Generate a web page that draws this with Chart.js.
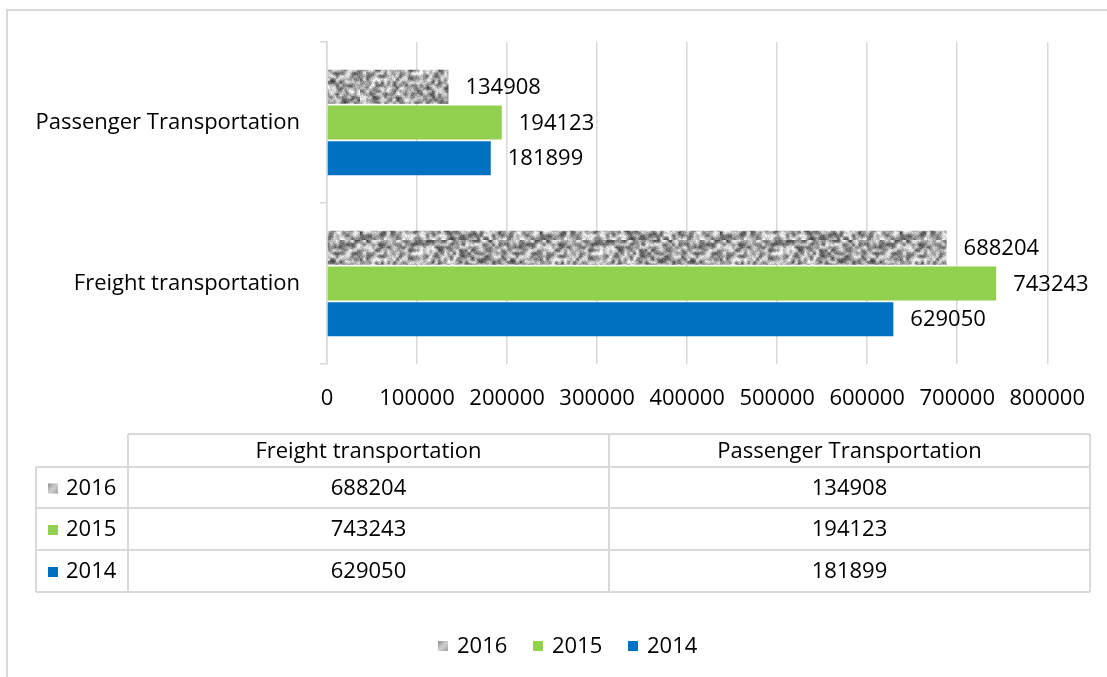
<!DOCTYPE html>
<html><head><meta charset="utf-8">
<script src="https://cdn.jsdelivr.net/npm/chart.js@4/dist/chart.umd.min.js"></script>
<style>html,body{margin:0;padding:0;background:#fff;overflow:hidden}#wrap{position:relative;width:1107px;height:677px}</style>
</head><body><div id="wrap"><canvas id="c" width="1107" height="677"></canvas></div>
<script>
// ---- data ----
const categories = ['Freight transportation', 'Passenger Transportation'];
const seriesNames = ['2016', '2015', '2014'];
const values2016 = [688204, 134908];
const values2015 = [743243, 194123];
const values2014 = [629050, 181899];
const xMin = 0, xMax = 800000, xStep = 100000;

const FONT = "'Open Sans', sans-serif";
const FS = 22;
const GREEN = '#92D050', BLUE = '#0070C0', GRID = '#d9d9d9';

const canvas = document.getElementById('c');
const ctx0 = canvas.getContext('2d');

function hash(x, y, seed) {
  let h = (Math.imul(x, 374761393) + Math.imul(y, 668265263) + Math.imul(seed, 2246822519)) | 0;
  h = Math.imul(h ^ (h >>> 13), 1274126177);
  h ^= h >>> 16;
  return (h >>> 0) / 4294967296;
}
function makeTexture() {
  const sw = 60, sh = 20, sc = 3;
  const small = document.createElement('canvas'); small.width = sw; small.height = sh;
  const s = small.getContext('2d'); const img = s.createImageData(sw, sh);
  for (let y = 0; y < sh; y++) for (let x = 0; x < sw; x++) {
    const h = hash(x, y, 7);
    const v = Math.round(70 + h * 185);
    const i = (y * sw + x) * 4;
    img.data[i] = v; img.data[i + 1] = v; img.data[i + 2] = v; img.data[i + 3] = 255;
  }
  s.putImageData(img, 0, 0);
  const big = document.createElement('canvas'); big.width = sw * sc; big.height = sh * sc;
  const b = big.getContext('2d'); b.imageSmoothingEnabled = true; b.imageSmoothingQuality = 'high';
  b.drawImage(small, 0, 0, sw * sc, sh * sc);
  const bi = b.getImageData(0, 0, big.width, big.height);
  for (let y = 0; y < big.height; y++) for (let x = 0; x < big.width; x++) {
    const h = hash(x, y, 31);
    const i = (y * big.width + x) * 4; const d = (h - 0.5) * 50;
    for (let k = 0; k < 3; k++) bi.data[i + k] = Math.max(0, Math.min(255, bi.data[i + k] + d));
  }
  b.putImageData(bi, 0, 0);
  return ctx0.createPattern(big, 'repeat');
}
const TEXTURE = makeTexture();

// chart order: top to bottom
const chartLabels = categories.slice().reverse();
const seriesValues = { '2016': values2016, '2015': values2015, '2014': values2014 };
const seriesColors = { '2016': TEXTURE, '2015': GREEN, '2014': BLUE };

const datasets = seriesNames.map(n => ({
  label: n,
  data: seriesValues[n].slice().reverse(),
  backgroundColor: seriesColors[n],
  borderWidth: 0,
  barPercentage: 0.95,
  categoryPercentage: 0.665
}));

const framePlugin = {
  id: 'frame',
  beforeDraw(chart) {
    const c = chart.ctx; c.save();
    c.strokeStyle = GRID; c.lineWidth = 2;
    c.beginPath(); c.moveTo(7, 677); c.lineTo(7, 10); c.lineTo(1107, 10); c.stroke();
    c.restore();
  }
};

const labelsPlugin = {
  id: 'vlabels',
  afterDatasetsDraw(chart) {
    const c = chart.ctx; c.save();
    c.font = FS + 'px ' + FONT; c.fillStyle = '#000'; c.textAlign = 'left'; c.textBaseline = 'middle';
    chart.data.datasets.forEach((ds, di) => {
      const meta = chart.getDatasetMeta(di);
      meta.data.forEach((el, i) => { c.fillText(String(ds.data[i]), el.x + 17, el.y + 1); });
    });
    c.restore();
  }
};

function swatchGray(c, x, y) {
  const g = c.createLinearGradient(x, y, x + 10, y + 10);
  g.addColorStop(0, '#8c8c8c'); g.addColorStop(0.5, '#cfcfcf'); g.addColorStop(1, '#a0a0a0');
  return g;
}

const tablePlugin = {
  id: 'dtable',
  afterDraw(chart) {
    const c = chart.ctx; c.save();
    const L = 36, C0 = 128, R = 1090, C1 = (C0 + R) / 2;
    const rows = [434, 467, 508, 550, 592];
    c.strokeStyle = GRID; c.lineWidth = 2; c.beginPath();
    c.moveTo(C0, rows[0]); c.lineTo(R, rows[0]);
    for (let k = 1; k < rows.length; k++) { c.moveTo(L, rows[k]); c.lineTo(R, rows[k]); }
    c.moveTo(L, rows[1]); c.lineTo(L, rows[4]);
    [C0, C1, R].forEach(x => { c.moveTo(x, rows[0]); c.lineTo(x, rows[4]); });
    c.stroke();
    c.font = FS + 'px ' + FONT; c.fillStyle = '#000'; c.textBaseline = 'middle'; c.textAlign = 'center';
    const colCenters = [(C0 + C1) / 2, (C1 + R) / 2];
    categories.forEach((cat, j) => c.fillText(cat, colCenters[j], (rows[0] + rows[1]) / 2 + 1));
    seriesNames.forEach((n, r) => {
      const yc = (rows[r + 1] + rows[r + 2]) / 2 + 1;
      c.fillStyle = seriesColors[n] === TEXTURE ? swatchGray(c, 48, yc - 5) : seriesColors[n];
      c.fillRect(48, yc - 5, 10, 10);
      c.fillStyle = '#000'; c.textAlign = 'left';
      c.fillText(n, 66, yc);
      c.textAlign = 'center';
      seriesValues[n].forEach((v, j) => c.fillText(String(v), colCenters[j], yc));
    });
    // legend
    const ly = 646;
    let x = 438;
    seriesNames.forEach(n => {
      c.fillStyle = seriesColors[n] === TEXTURE ? swatchGray(c, x, ly - 5) : seriesColors[n];
      c.fillRect(x, ly - 5, 10, 10);
      c.fillStyle = '#000'; c.textAlign = 'left';
      c.fillText(n, x + 19, ly + 1);
      x += 95;
    });
    c.restore();
  }
};

new Chart(canvas, {
  type: 'bar',
  data: { labels: chartLabels, datasets },
  plugins: [framePlugin, labelsPlugin, tablePlugin],
  options: {
    indexAxis: 'y',
    responsive: false,
    animation: false,
    layout: { padding: { left: 0, right: 57, top: 42, bottom: 0 } },
    plugins: { legend: { display: false }, tooltip: { enabled: false } },
    scales: {
      x: {
        min: xMin, max: xMax,
        ticks: { stepSize: xStep, padding: 22, color: '#000', font: { family: FONT, size: FS }, maxRotation: 0, autoSkip: false, callback: v => String(v) },
        grid: { color: GRID, lineWidth: 1.5, drawTicks: false },
        border: { display: false },
        afterFit(s) { s.height = 677 - 364; }
      },
      y: {
        ticks: { padding: 20, color: '#000', font: { family: FONT, size: FS } },
        grid: { display: true, drawOnChartArea: false, drawTicks: true, tickLength: 7, offset: true, color: GRID, lineWidth: 1.5 },
        border: { display: true, color: GRID, width: 1.5 },
        afterFit(s) { s.width = 327; }
      }
    }
  }
});
</script></body></html>
